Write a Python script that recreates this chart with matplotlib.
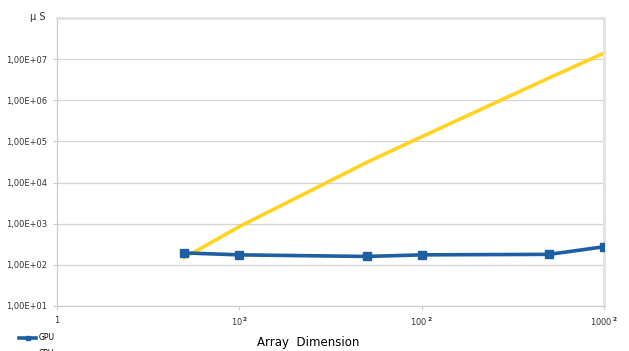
import matplotlib
matplotlib.use('Agg')
import matplotlib.pyplot as plt
import matplotlib.ticker as mticker

# array dimension (N, matrix is N x N) and time in microseconds
dims = [5, 10, 50, 100, 500, 1000]
gpu_us = [195, 175, 160, 175, 180, 275]
cpu_us = [150, 850, 31000, 130000, 3500000, 14000000]

x_ticks = [1, 10, 100, 1000]
x_labels = ['1', r'10$^{\,\mathbf{2}}$', r'100$^{\,\mathbf{2}}$', r'1000$^{\,\mathbf{2}}$']

fig = plt.figure(figsize=(6.29, 3.51), dpi=100)
ax = fig.add_axes([57 / 629, 1 - 306 / 351, 547 / 629, 288 / 351])

ax.plot(dims, gpu_us, color='#1c5fa3', lw=2.6, marker='s', ms=5.5, label='GPU', zorder=3)
ax.plot(dims, cpu_us, color='#ffd320', lw=2.6, label='CPU', zorder=2)

ax.set_xscale('log')
ax.set_yscale('log')
ax.set_xlim(1, 1000)
ax.set_ylim(10, 1e8)

ax.set_xticks(x_ticks)
ax.set_xticklabels(x_labels, fontsize=6, color='#333333')
ax.xaxis.set_minor_locator(mticker.NullLocator())
ax.set_yticks([1e1, 1e2, 1e3, 1e4, 1e5, 1e6, 1e7])
ax.set_yticklabels(['1,00E+01', '1,00E+02', '1,00E+03', '1,00E+04',
                    '1,00E+05', '1,00E+06', '1,00E+07'], fontsize=6, color='#333333')
ax.yaxis.set_minor_locator(mticker.NullLocator())
ax.tick_params(axis='both', length=3, color='#cccccc', pad=4)

ax.grid(axis='y', color='#d4d4d4', lw=0.9)
ax.set_axisbelow(True)
for s in ['left', 'bottom']:
    ax.spines[s].set_color('#cccccc')
    ax.spines[s].set_linewidth(0.9)
for s in ['top', 'right']:
    ax.spines[s].set_color('#e3e3e3')
    ax.spines[s].set_linewidth(2.2)

fig.text(30 / 629, 1 - 17 / 351, 'µ S', fontsize=7, color='#333333', va='center')
ax.set_xlabel('Array  Dimension', fontsize=8.5, labelpad=6, x=0.46)

fig.legend(loc='upper left', bbox_to_anchor=(0.02, 0.07), frameon=False,
           fontsize=5.5, handlelength=2.2, labelspacing=0.9, handletextpad=0.3,
           markerscale=0.6)

fig.savefig('out.png', dpi=100)
